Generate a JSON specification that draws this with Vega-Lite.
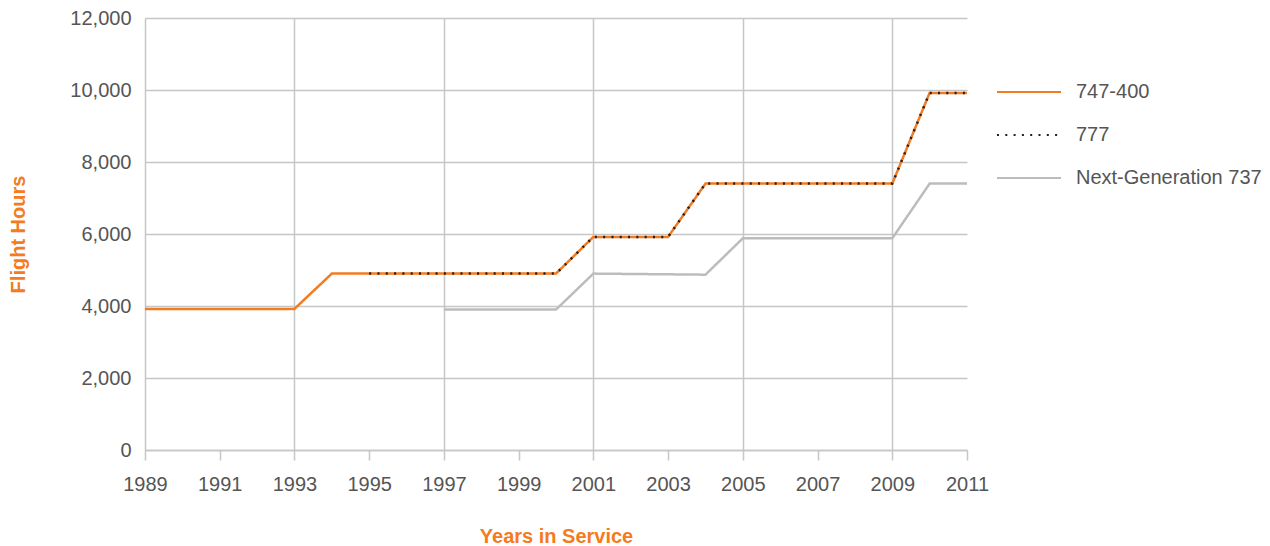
{
  "$schema": "https://vega.github.io/schema/vega-lite/v6.json",
  "width": 822,
  "height": 432,
  "autosize": "none",
  "padding": {"left": 145, "top": 18, "right": 303, "bottom": 96},
  "background": "white",
  "config": {"view": {"stroke": null}, "font": "Liberation Sans"},
  "data": {
    "values": [
      {"year": 1997, "series": "Next-Generation 737", "hours": 3900},
      {"year": 1998, "series": "Next-Generation 737", "hours": 3900},
      {"year": 1999, "series": "Next-Generation 737", "hours": 3900},
      {"year": 2000, "series": "Next-Generation 737", "hours": 3900},
      {"year": 2001, "series": "Next-Generation 737", "hours": 4900},
      {"year": 2002, "series": "Next-Generation 737", "hours": 4890},
      {"year": 2003, "series": "Next-Generation 737", "hours": 4880},
      {"year": 2004, "series": "Next-Generation 737", "hours": 4870},
      {"year": 2005, "series": "Next-Generation 737", "hours": 5880},
      {"year": 2006, "series": "Next-Generation 737", "hours": 5880},
      {"year": 2007, "series": "Next-Generation 737", "hours": 5880},
      {"year": 2008, "series": "Next-Generation 737", "hours": 5880},
      {"year": 2009, "series": "Next-Generation 737", "hours": 5880},
      {"year": 2010, "series": "Next-Generation 737", "hours": 7400},
      {"year": 2011, "series": "Next-Generation 737", "hours": 7400},
      {"year": 1989, "series": "747-400", "hours": 3920},
      {"year": 1990, "series": "747-400", "hours": 3920},
      {"year": 1991, "series": "747-400", "hours": 3920},
      {"year": 1992, "series": "747-400", "hours": 3920},
      {"year": 1993, "series": "747-400", "hours": 3920},
      {"year": 1994, "series": "747-400", "hours": 4900},
      {"year": 1995, "series": "747-400", "hours": 4900},
      {"year": 1996, "series": "747-400", "hours": 4900},
      {"year": 1997, "series": "747-400", "hours": 4900},
      {"year": 1998, "series": "747-400", "hours": 4900},
      {"year": 1999, "series": "747-400", "hours": 4900},
      {"year": 2000, "series": "747-400", "hours": 4900},
      {"year": 2001, "series": "747-400", "hours": 5920},
      {"year": 2002, "series": "747-400", "hours": 5920},
      {"year": 2003, "series": "747-400", "hours": 5920},
      {"year": 2004, "series": "747-400", "hours": 7400},
      {"year": 2005, "series": "747-400", "hours": 7400},
      {"year": 2006, "series": "747-400", "hours": 7400},
      {"year": 2007, "series": "747-400", "hours": 7400},
      {"year": 2008, "series": "747-400", "hours": 7400},
      {"year": 2009, "series": "747-400", "hours": 7400},
      {"year": 2010, "series": "747-400", "hours": 9920},
      {"year": 2011, "series": "747-400", "hours": 9920},
      {"year": 1995, "series": "777", "hours": 4900},
      {"year": 1996, "series": "777", "hours": 4900},
      {"year": 1997, "series": "777", "hours": 4900},
      {"year": 1998, "series": "777", "hours": 4900},
      {"year": 1999, "series": "777", "hours": 4900},
      {"year": 2000, "series": "777", "hours": 4900},
      {"year": 2001, "series": "777", "hours": 5920},
      {"year": 2002, "series": "777", "hours": 5920},
      {"year": 2003, "series": "777", "hours": 5920},
      {"year": 2004, "series": "777", "hours": 7400},
      {"year": 2005, "series": "777", "hours": 7400},
      {"year": 2006, "series": "777", "hours": 7400},
      {"year": 2007, "series": "777", "hours": 7400},
      {"year": 2008, "series": "777", "hours": 7400},
      {"year": 2009, "series": "777", "hours": 7400},
      {"year": 2010, "series": "777", "hours": 9920},
      {"year": 2011, "series": "777", "hours": 9920}
    ]
  },
  "mark": {"type": "line", "strokeWidth": 2.5},
  "encoding": {
    "x": {
      "field": "year",
      "type": "quantitative",
      "scale": {"domain": [1989, 2011], "nice": false, "zero": false},
      "axis": {
        "values": [1989, 1991, 1993, 1995, 1997, 1999, 2001, 2003, 2005, 2007, 2009, 2011],
        "format": "d",
        "title": "Years in Service",
        "titleFont": "Liberation Sans",
        "titleFontSize": 20,
        "titleFontWeight": "bold",
        "titleColor": "#f47b20",
        "titleY": 86,
        "titleBaseline": "middle",
        "labelFont": "Liberation Sans",
        "labelFontSize": 20,
        "labelColor": "#555555",
        "labelPadding": 14,
        "labelFlush": false,
        "labelOverlap": false,
        "domain": true,
        "domainColor": "#c6c6c6",
        "domainWidth": 1.5,
        "ticks": true,
        "tickColor": "#c6c6c6",
        "tickWidth": 1.5,
        "tickSize": 10,
        "grid": true,
        "gridColor": "#c6c6c6",
        "gridWidth": 1.5,
        "gridOpacity": {"condition": {"test": "(datum.value - 1989) % 4 === 0", "value": 1}, "value": 0}
      }
    },
    "y": {
      "field": "hours",
      "type": "quantitative",
      "scale": {"domain": [0, 12000], "nice": false},
      "axis": {
        "values": [0, 2000, 4000, 6000, 8000, 10000, 12000],
        "format": ",d",
        "title": "Flight Hours",
        "titleFont": "Liberation Sans",
        "titleFontSize": 20,
        "titleFontWeight": "bold",
        "titleColor": "#f47b20",
        "titleX": -127,
        "titleY": 216,
        "titleAngle": -90,
        "titleBaseline": "middle",
        "titleAlign": "center",
        "labelFont": "Liberation Sans",
        "labelFontSize": 20,
        "labelColor": "#555555",
        "labelPadding": 14,
        "labelFlush": false,
        "labelOverlap": false,
        "domain": false,
        "ticks": false,
        "grid": true,
        "gridColor": "#c6c6c6",
        "gridWidth": 1.5
      }
    },
    "color": {
      "field": "series",
      "type": "nominal",
      "scale": {
        "domain": ["747-400", "777", "Next-Generation 737"],
        "range": ["#f47b20", "#231f20", "#babcbe"]
      },
      "legend": {
        "title": null,
        "orient": "none",
        "legendX": 851,
        "legendY": 41,
        "symbolType": "stroke",
        "symbolSize": 4096,
        "symbolStrokeWidth": 2,
        "labelFont": "Liberation Sans",
        "labelFontSize": 20,
        "labelColor": "#555555",
        "labelOffset": 14,
        "labelLimit": 0,
        "rowPadding": -20
      }
    },
    "strokeDash": {
      "field": "series",
      "type": "nominal",
      "scale": {
        "domain": ["747-400", "777", "Next-Generation 737"],
        "range": [[1, 0], [2, 6.3], [1, 0]]
      },
      "legend": null
    }
  }
}
